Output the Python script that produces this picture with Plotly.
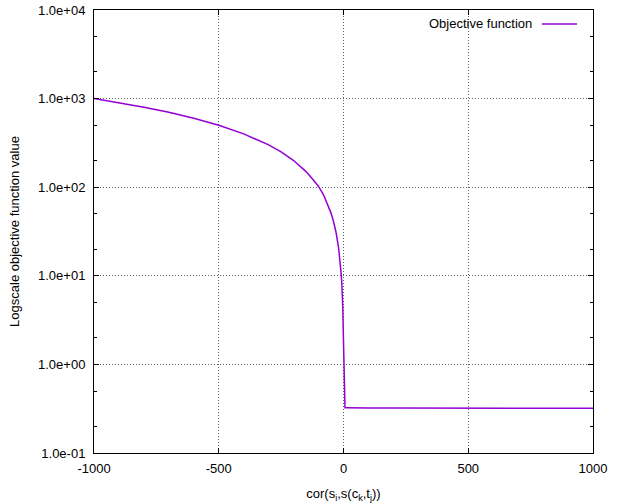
import plotly.graph_objects as go

# Data
x_vals = [-1000, -900, -800, -700, -600, -500, -400, -300, -250, -200, -150,
          -120, -100, -80, -60, -50, -40, -30, -20, -15, -10, -7, -5, -3,
          -1, 0, 1, 2, 3, 4, 6, 10, 20, 50, 100, 200, 300, 400, 500, 600,
          700, 800, 900, 1000]
y_vals = [1000, 900, 800, 700, 600, 500, 400, 300, 250, 200, 150,
          120, 102, 82, 61, 51, 41, 31, 21, 16, 11, 8.5, 6.5, 4.5,
          2.4, 1.5, 0.9, 0.55, 0.38, 0.33, 0.325, 0.325, 0.324, 0.323, 0.322, 0.322,
          0.321, 0.321, 0.321, 0.32, 0.32, 0.32, 0.32, 0.32]

x_ticks = [-1000, -500, 0, 500, 1000]
y_ticks = [1e-1, 1e0, 1e1, 1e2, 1e3, 1e4]
y_tick_text = ["1.0e-01", "1.0e+00", "1.0e+01", "1.0e+02", "1.0e+03", "1.0e+04"]
y_minor = [2e-1, 5e-1, 2, 5, 20, 50, 200, 500, 2000, 5000]

series_name = "Objective function"
line_color = "#9400D3"

fig = go.Figure()
fig.add_trace(go.Scatter(x=x_vals, y=y_vals, mode="lines", name=series_name,
                         line=dict(color=line_color, width=1.5),
                         showlegend=False))

font = dict(family="Liberation Sans, Arial, sans-serif", size=13, color="black")
grid_dash = "1px,2px"
grid_color = "#606060"

fig.update_layout(
    width=632, height=503,
    margin=dict(l=94, r=39, t=10, b=50),
    paper_bgcolor="white", plot_bgcolor="white",
    font=font,
    showlegend=False,
    xaxis=dict(
        range=[-1000, 1000], tickvals=x_ticks, ticktext=[str(v) for v in x_ticks],
        showline=True, linecolor="black", linewidth=1, mirror="ticks",
        ticks="inside", ticklen=5, tickcolor="black",
        showgrid=True, gridcolor=grid_color, griddash=grid_dash, gridwidth=1,
        zeroline=False, tickfont=dict(size=13), ticklabelstandoff=3,
        automargin=False,
        title=dict(text="cor(s<sub>i</sub>,s(c<sub>k</sub>,t<sub>j</sub>))",
                   font=dict(size=13), standoff=16),
    ),
    yaxis=dict(
        type="log", range=[-1, 4], tickvals=y_ticks, ticktext=y_tick_text,
        showline=True, linecolor="black", linewidth=1, mirror="ticks",
        ticks="inside", ticklen=5, tickcolor="black",
        showgrid=True, gridcolor=grid_color, griddash=grid_dash, gridwidth=1,
        zeroline=False, tickfont=dict(size=13), ticklabelstandoff=5,
        automargin=False,
        minor=dict(tickvals=y_minor, ticks="inside", ticklen=3,
                   tickcolor="black", showgrid=False),
        title=dict(text="Logscale objective function value",
                   font=dict(size=13), standoff=15),
    ),
)

# gnuplot-style key: text followed by line sample (top right)
fig.add_annotation(xref="paper", yref="paper", x=(534 - 94) / 499, y=(453 - 24) / 443,
                   text=series_name, showarrow=False, xanchor="right",
                   yanchor="middle", font=font)
fig.add_shape(type="line", xref="paper", yref="paper",
              x0=(542 - 94) / 499, x1=(577 - 94) / 499,
              y0=(453 - 24) / 443, y1=(453 - 24) / 443,
              line=dict(color=line_color, width=1.5))

fig.write_html("out.html")
